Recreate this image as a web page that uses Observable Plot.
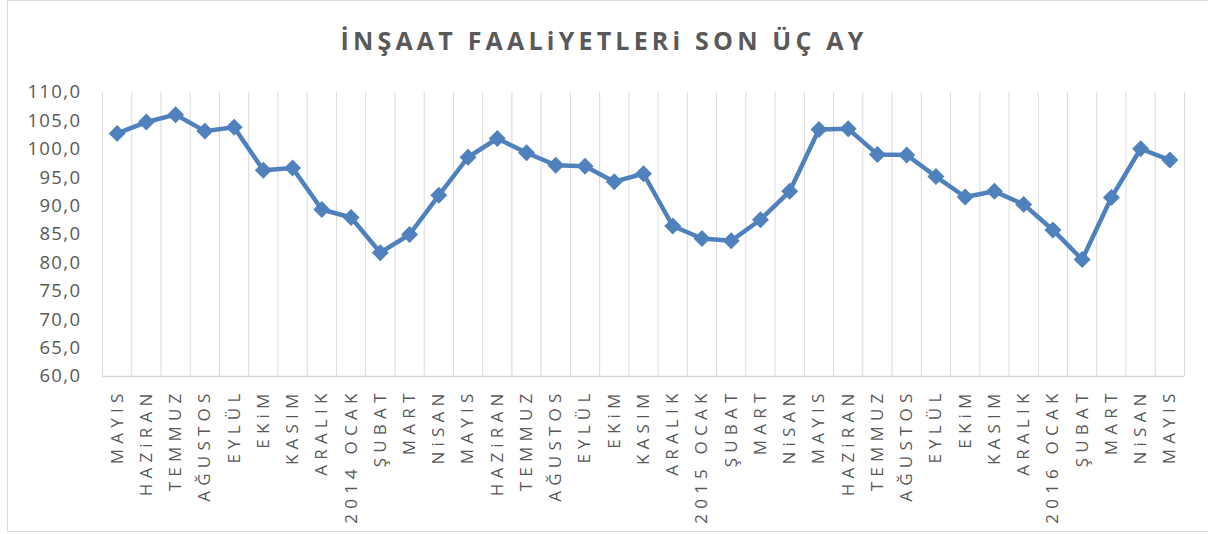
<!DOCTYPE html>
<html>
<head>
<meta charset="utf-8">
<script src="https://cdn.jsdelivr.net/npm/d3@7"></script>
<script src="https://cdn.jsdelivr.net/npm/@observablehq/plot@0.6"></script>
<style>
  html, body { margin: 0; padding: 0; background: #fff; }
  #wrap { position: relative; width: 1208px; height: 534px; overflow: hidden; }
  #frame { position: absolute; left: 7px; top: 0px; width: 1210px; height: 532px; border: 1px solid #d9d9d9; box-sizing: border-box; }
  #title { position: absolute; left: 0; top: 28px; width: 1208px; text-align: center;
           font-family: "Open Sans", sans-serif; font-weight: 700; font-size: 25px; line-height: 1;
           letter-spacing: 4.2px; color: #595959; }
  #chart { position: absolute; left: 0; top: 70px; }
  #chart g[aria-label="x-axis tick label"] text { letter-spacing: 5.2px; }
  #chart g[aria-label="y-axis tick label"] text { letter-spacing: 1.4px; }
</style>
</head>
<body>
<div id="wrap">
  <div id="frame"></div>
  <div id="title">İNŞAAT FAALiYETLERi SON ÜÇ AY</div>
  <div id="chart"></div>
</div>
<script>
const months = ["MAYIS","HAZiRAN","TEMMUZ","AĞUSTOS","EYLÜL","EKiM","KASIM","ARALIK","2014 OCAK","ŞUBAT","MART","NiSAN",
                "MAYIS","HAZiRAN","TEMMUZ","AĞUSTOS","EYLÜL","EKiM","KASIM","ARALIK","2015 OCAK","ŞUBAT","MART","NiSAN",
                "MAYIS","HAZiRAN","TEMMUZ","AĞUSTOS","EYLÜL","EKiM","KASIM","ARALIK","2016 OCAK","ŞUBAT","MART","NiSAN","MAYIS"];
const values = [102.8,104.8,106.1,103.2,103.9,96.3,96.7,89.4,88.0,81.8,85.0,91.9,
                98.6,101.9,99.4,97.2,97.0,94.3,95.7,86.5,84.3,83.9,87.6,92.6,
                103.5,103.6,99.1,99.0,95.2,91.6,92.6,90.3,85.8,80.6,91.5,100.1,98.1];
const yTicks = [60,65,70,75,80,85,90,95,100,105,110];

const data = values.map((v, i) => ({i, v, label: months[i]}));
const idx = d3.range(months.length);
const bounds = d3.range(months.length + 1).map(i => i - 0.5);
const blue = "#4f81bd";

const chart = Plot.plot({
  width: 1208,
  height: 464,
  marginLeft: 102,
  marginRight: 24,
  marginTop: 22,
  marginBottom: 158,
  style: {fontFamily: "'Open Sans', sans-serif", color: "#595959", background: "transparent"},
  x: {type: "linear", domain: [-0.5, months.length - 0.5]},
  y: {domain: [60, 110]},
  marks: [
    Plot.ruleX(bounds, {y1: 60, y2: 110, stroke: "#d9d9d9", strokeWidth: 1}),
    Plot.ruleY([60], {stroke: "#d9d9d9", strokeWidth: 1.5}),
    Plot.axisY({ticks: yTicks, tickSize: 0, tickPadding: 21, fontSize: 18.5,
                tickFormat: d => d3.format(".1f")(d).replace(".", ","), label: null}),
    Plot.axisX({ticks: idx, tickSize: 0, tickPadding: 12, tickRotate: -90, fontSize: 17,
                tickFormat: i => months[i], label: null, textAnchor: "end"}),
    Plot.line(data, {x: "i", y: "v", stroke: blue, strokeWidth: 4.5, strokeLinejoin: "round"}),
    Plot.dot(data, {x: "i", y: "v", symbol: "square", r: 6.2, rotate: 45, fill: blue, stroke: blue, strokeWidth: 1})
  ]
});
document.getElementById("chart").appendChild(chart);
</script>
</body>
</html>
